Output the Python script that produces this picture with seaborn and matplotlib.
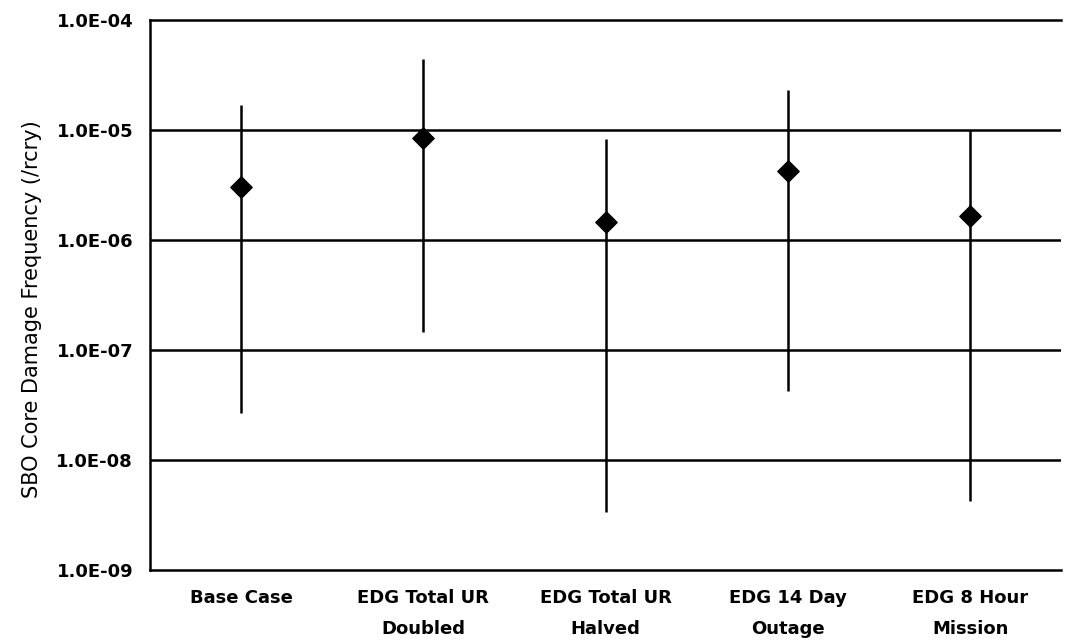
import matplotlib
matplotlib.use('Agg')
import matplotlib.pyplot as plt
import seaborn as sns
import pandas as pd

# dados
categories = ['Base Case', 'EDG Total UR\nDoubled', 'EDG Total UR\nHalved',
              'EDG 14 Day\nOutage', 'EDG 8 Hour\nMission']
mean_cdf = [3.0e-6, 8.5e-6, 1.47e-6, 4.2e-6, 1.65e-6]
upper_cdf = [1.7e-5, 4.4e-5, 8.3e-6, 2.3e-5, 1.0e-5]
lower_cdf = [2.7e-8, 1.45e-7, 3.4e-9, 4.2e-8, 4.2e-9]
y_ticks = [1e-9, 1e-8, 1e-7, 1e-6, 1e-5, 1e-4]
y_tick_labels = ['1.0E-09', '1.0E-08', '1.0E-07', '1.0E-06', '1.0E-05', '1.0E-04']

df = pd.DataFrame({'case': categories, 'mean': mean_cdf,
                   'lo': lower_cdf, 'hi': upper_cdf})

sns.set_style('white')
plt.rcParams['font.family'] = ['DejaVu Sans']
plt.rcParams['text.color'] = 'black'
plt.rcParams['axes.labelcolor'] = 'black'
plt.rcParams['xtick.color'] = 'black'
plt.rcParams['ytick.color'] = 'black'

fig = plt.figure(figsize=(10.7, 6.43), dpi=100)
ax = fig.add_axes([0.140, 0.1135, 0.852, 0.8555])

ax.set_yscale('log')
ax.vlines(df['case'], df['lo'], df['hi'], color='black', linewidth=1.8, zorder=3)
sns.scatterplot(data=df, x='case', y='mean', marker='D', s=120, color='black',
                edgecolor='black', zorder=4, ax=ax)

ax.set_ylim(1e-9, 1e-4)
ax.set_xlim(-0.5, 4.5)
ax.set_yticks(y_ticks)
ax.set_yticklabels(y_tick_labels, fontsize=13, fontweight='bold')
ax.minorticks_off()
ax.tick_params(axis='y', length=4, direction='out', pad=8)
ax.tick_params(axis='x', length=0, pad=14)
for lbl in ax.get_xticklabels():
    lbl.set_fontsize(13)
    lbl.set_fontweight('bold')
    lbl.set_linespacing(1.9)

for t in y_ticks[1:-1]:
    ax.axhline(t, color='black', linewidth=1.8, zorder=1)

for side in ['left', 'bottom', 'top']:
    ax.spines[side].set_color('black')
    ax.spines[side].set_linewidth(1.8)
ax.spines['right'].set_visible(False)

ax.set_xlabel('')
ax.set_ylabel('SBO Core Damage Frequency (/rcry)', fontsize=15)
ax.yaxis.set_label_coords(-0.118, 0.475)

plt.savefig('out.png', dpi=100)
